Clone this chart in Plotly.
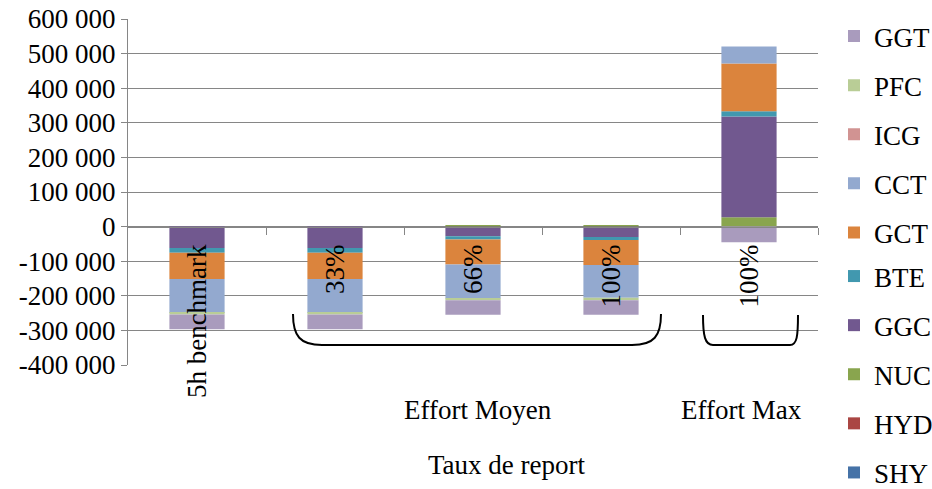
import plotly.graph_objects as go

# Categories along the horizontal axis
categories = ["5h benchmark", "33%", "66%", "100%", "100%"]

# Stacked series (values per category)
SHY = [0, 0, 0, 0, 0]
HYD = [0, 0, 0, 0, 0]
NUC = [0, 0, 4000, 4000, 27000]
GGC = [-62000, -62000, -28000, -30000, 291000]
BTE = [-13500, -13500, -9600, -8700, 15500]
GCT = [-76000, -76000, -72000, -72000, 138000]
CCT = [-98000, -98000, -98000, -95000, 49000]
ICG = [0, 0, 0, 0, 0]
PFC = [-4500, -4500, -5000, -7000, 0]
GGT = [-43000, -43000, -42000, -42000, -45000]

series_names = ["SHY", "HYD", "NUC", "GGC", "BTE", "GCT", "CCT", "ICG", "PFC", "GGT"]
series_values = [SHY, HYD, NUC, GGC, BTE, GCT, CCT, ICG, PFC, GGT]
series_colors = ["#4572A7", "#AA4643", "#89A54E", "#71588F", "#4198AF",
                 "#DB843D", "#93A9CF", "#D19392", "#B9CD96", "#A99BBD"]

y_ticks = [-400000, -300000, -200000, -100000, 0, 100000, 200000, 300000, 400000, 500000, 600000]
y_tick_labels = ["-400 000", "-300 000", "-200 000", "-100 000", "0", "100 000",
                 "200 000", "300 000", "400 000", "500 000", "600 000"]

FONT = "Liberation Serif, Times New Roman, serif"
FS = 27
GRID = "#868686"

# Plot area in pixels (used for decorations laid out in paper space)
W, H = 932, 489
L, R, T, B = 128, 114, 19, 124
PW, PH = W - L - R, H - T - B


def px(x, y):
    return (x - L) / PW, (H - B - y) / PH


def cont(x, y):
    return x / W, 1 - y / H


def path_px(cmds):
    out = []
    for c in cmds:
        if isinstance(c, str):
            out.append(c)
        else:
            xp, yp = px(*c)
            out.append(f"{xp:.5f},{yp:.5f}")
    return " ".join(out)


x_idx = list(range(len(categories)))

fig = go.Figure()
n = len(series_names)
for i, (name, vals, col) in enumerate(zip(series_names, series_values, series_colors)):
    # legend lists the last series first, split over two columns of five rows
    rank = n - i
    fig.add_trace(go.Bar(
        x=x_idx, y=vals, name=name, legendgroup=name, legendrank=rank,
        legend="legend" if rank <= 5 else "legend2",
        marker=dict(color=col, line=dict(width=0)),
        width=0.4,
    ))

# Curly braces grouping the categories
brace_moyen = path_px(["M", (293, 314), "C", (293, 336), (300, 345), (322, 345),
                       "L", (632, 345), "C", (654, 345), (661, 336), (661, 314)])
brace_max = path_px(["M", (703, 315), "C", (703, 336), (705, 345), (713, 345),
                     "L", (790, 345), "C", (797, 345), (798, 336), (798, 315)])

shapes = [
    dict(type="path", path=brace_moyen, xref="paper", yref="paper",
         line=dict(color="black", width=2)),
    dict(type="path", path=brace_max, xref="paper", yref="paper",
         line=dict(color="black", width=2)),
]

ax, ay = px(478, 410)
bx, by = px(741, 410)
tx, ty = px(507, 465)
text_font = dict(size=FS, color="black", family=FONT)
annotations = [
    dict(text="Effort Moyen", x=ax, y=ay, xref="paper", yref="paper",
         xanchor="center", yanchor="middle", showarrow=False, font=text_font),
    dict(text="Effort Max", x=bx, y=by, xref="paper", yref="paper",
         xanchor="center", yanchor="middle", showarrow=False, font=text_font),
    dict(text="Taux de report", x=tx, y=ty, xref="paper", yref="paper",
         xanchor="center", yanchor="middle", showarrow=False, font=text_font),
]

y_min, y_max = -400000, 600000
zero_pos = (0 - y_min) / (y_max - y_min)

lx, ly1 = cont(834, 12)
_, ly2 = cont(834, 252)
legend_style = dict(xref="container", yref="container", xanchor="left", yanchor="top",
                    traceorder="grouped", tracegroupgap=11,
                    font=dict(size=FS, family=FONT, color="black"),
                    bgcolor="rgba(0,0,0,0)", borderwidth=0)

fig.update_layout(
    width=W, height=H, autosize=False,
    margin=dict(l=L, r=R, t=T, b=B, pad=0, autoexpand=False),
    paper_bgcolor="white", plot_bgcolor="white",
    barmode="relative",
    font=dict(family=FONT, size=FS, color="black"),
    showlegend=True,
    legend=dict(x=lx, y=ly1, **legend_style),
    legend2=dict(x=lx, y=ly2, **legend_style),
    xaxis=dict(
        range=[-0.5, 4.5], anchor="free", position=zero_pos, automargin=False,
        tickmode="array", tickvals=x_idx, ticktext=categories,
        tickangle=-90, ticks="", showgrid=False, zeroline=False,
        showline=True, linecolor=GRID, linewidth=1,
        ticklabelstandoff=6,
        minor=dict(tickmode="array", tickvals=[0.5, 1.5, 2.5, 3.5, 4.5],
                   ticks="outside", ticklen=7, tickcolor=GRID, showgrid=False),
        tickfont=dict(size=FS, family=FONT, color="black"),
    ),
    yaxis=dict(
        range=[y_min, y_max], tickmode="array", tickvals=y_ticks, ticktext=y_tick_labels,
        automargin=False,
        showgrid=True, gridcolor=GRID, gridwidth=1, zeroline=False,
        showline=True, linecolor=GRID, linewidth=1,
        ticks="outside", ticklen=6, tickcolor=GRID,
        tickfont=dict(size=FS, family=FONT, color="black"),
    ),
    shapes=shapes,
    annotations=annotations,
)

fig.write_html("out.html")
